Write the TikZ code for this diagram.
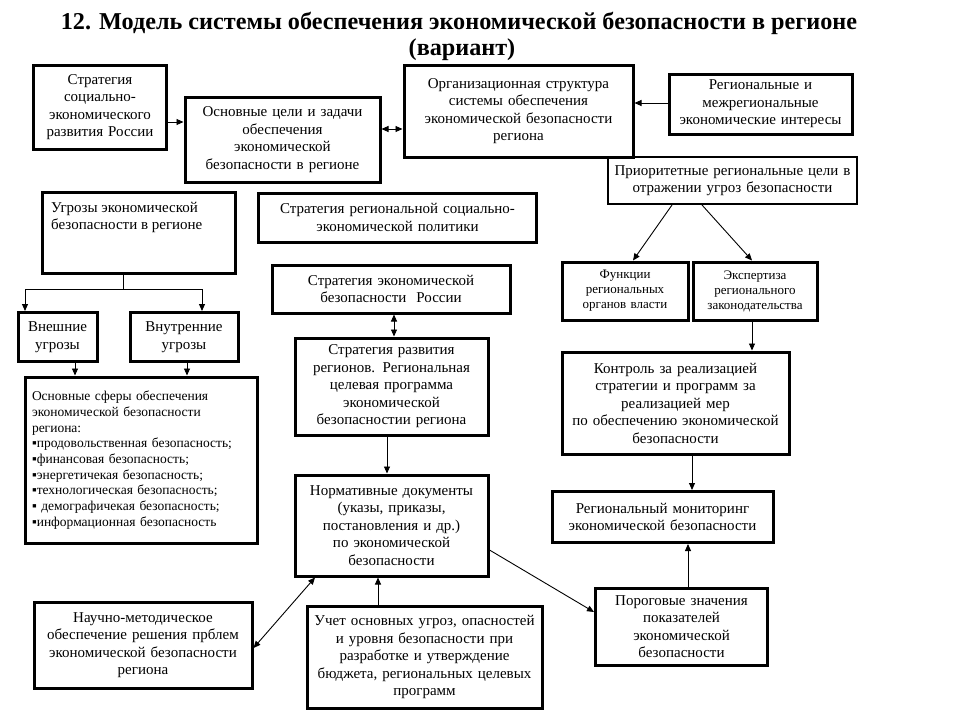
\documentclass[tikz,border=0pt]{standalone}
\usepackage{fontspec}
\setmainfont{Liberation Serif}
\usetikzlibrary{arrows.meta}
\tikzset{
  box/.style={draw, line width=3pt, align=center, inner sep=2pt,
    font=\fontsize{15}{17.5}\selectfont},
  smallbox/.style={box, font=\fontsize{13}{15}\selectfont},
  thinbox/.style={box, line width=2pt},
  txt/.style={inner sep=0pt, align=left, font=\fontsize{15}{17.5}\selectfont},
  titletxt/.style={inner sep=0pt, font=\fontsize{24.2}{26}\selectfont\bfseries},
  conn/.style={line width=0.9pt, -{Triangle[length=7pt,width=6pt]}},
  dconn/.style={line width=0.9pt, {Triangle[length=7pt,width=6pt]}-{Triangle[length=7pt,width=6pt]}},
  plain/.style={line width=0.9pt},
}
\begin{document}
\begin{tikzpicture}[x=1pt,y=-1pt]
\useasboundingbox[fill=white] (0,0) rectangle (960,720);

% title
\node[titletxt, anchor=base] (t1) at (459,29) {12. Модель системы обеспечения экономической безопасности в регионе};
\node[titletxt, anchor=base] (t2) at (462,55) {(вариант)};

% boxes
\node[box, minimum width=133, minimum height=84, text width=125] (s1) at (100,107)
  {Стратегия\\социально-\\экономического\\развития России};
\node[box, minimum width=195, minimum height=85, text width=187] (goals) at (282.5,139.5)
  {Основные цели и задачи\\обеспечения\\экономической\\безопасности в регионе};
\node[box, minimum width=229, minimum height=92, text width=221] (org) at (518.5,111)
  {Организационная структура\\системы обеспечения\\экономической безопасности\\региона};
\node[box, minimum width=183, minimum height=60, text width=175] (inter) at (760.5,104)
  {Региональные и\\межрегиональные\\экономические интересы};
\node[thinbox, minimum width=249, minimum height=47, text width=241] (prior) at (732.5,180.5)
  {Приоритетные региональные цели в\\отражении угроз безопасности};

\node[box, minimum width=193, minimum height=81] (threats) at (138.5,233) {};
\node[txt, anchor=north west] (threatstxt) at (51,202) {Угрозы экономической\\безопасности в регионе};

\node[box, minimum width=278, minimum height=49, text width=270] (regpol) at (397.5,217.5)
  {Стратегия региональной социально-\\экономической политики};
\node[box, minimum width=238, minimum height=48, text width=230] (esr) at (391,289)
  {Стратегия экономической\\безопасности \ России};

\node[box, minimum width=79, minimum height=49, text width=73] (ext) at (57.5,337)
  {Внешние\\угрозы};
\node[box, minimum width=108, minimum height=49, text width=100] (int) at (184,337)
  {Внутренние\\угрозы};

\node[box, minimum width=232, minimum height=166, text width=218, align=left,
      font=\fontsize{13.5}{15.7}\selectfont] (spheres) at (141,460)
  {Основные сферы обеспечения\\экономической безопасности\\региона:\\
   ▪продовольственная безопасность;\\▪финансовая безопасность;\\▪энергетичекая безопасность;\\
   ▪технологическая безопасность;\\▪ демографичекая безопасность;\\▪информационная безопасность\\[5pt]};

\node[box, minimum width=193, minimum height=97, text width=185] (devreg) at (391.5,386.5)
  {Стратегия развития\\регионов. Региональная\\целевая программа\\экономической\\безопасностии региона};

\node[smallbox, minimum width=126, minimum height=58, text width=120] (func) at (625,291)
  {Функции\\региональных\\органов власти};
\node[smallbox, minimum width=124, minimum height=58, text width=118] (expert) at (755,291)
  {Экспертиза\\регионального\\законодательства};

\node[box, minimum width=227, minimum height=102, text width=221] (control) at (675.5,403)
  {Контроль за реализацией\\стратегии и программ за\\реализацией мер\\по обеспечению экономической\\безопасности};
\node[box, minimum width=221, minimum height=51, text width=213] (monitor) at (662.5,517)
  {Региональный мониторинг\\экономической безопасности};

\node[box, minimum width=193, minimum height=101, text width=185] (norm) at (391.5,525.5)
  {Нормативные документы\\(указы, приказы,\\постановления и др.)\\по экономической\\безопасности};

\node[box, minimum width=218, minimum height=86, text width=210] (sci) at (143,645)
  {Научно-методическое\\обеспечение решения прблем\\экономической безопасности\\региона};
\node[box, minimum width=235, minimum height=102, text width=227] (uchet) at (424.5,657)
  {Учет основных угроз, опасностей\\и уровня безопасности при\\разработке и утверждение\\бюджета, региональных целевых\\программ};
\node[box, minimum width=172, minimum height=77, text width=164] (porog) at (681.5,626.5)
  {Пороговые значения\\показателей\\экономической\\безопасности};

% connectors
\draw[conn] (s1.east |- 0,122) -- (goals.west |- 0,122);
\draw[dconn] (goals.east |- 0,129) -- (org.west |- 0,129);
\draw[conn] (inter.west |- 0,103) -- (org.east |- 0,103);

\coordinate (tb) at (123,289);
\draw[plain] (threats.south -| tb) -- (tb);
\draw[conn] (tb) -| (ext.north -| 25,0);
\draw[conn] (tb) -| (int.north -| 202,0);
\draw[conn] (ext.south -| 75,0) -- (spheres.north -| 75,0);
\draw[conn] (int.south -| 187,0) -- (spheres.north -| 187,0);

\draw[dconn] (esr.south -| 394,0) -- (devreg.north -| 394,0);
\draw[conn] (devreg.south -| 387,0) -- (norm.north -| 387,0);
\draw[conn] (uchet.north -| 378,0) -- (norm.south -| 378,0);
\draw[dconn] (norm.south -| 315,0) -- (sci.east |- 0,648);
\draw[conn] (norm.east |- 0,550) -- (porog.west |- 0,612);

\draw[conn] (prior.south -| 672,0) -- (func.north -| 633,0);
\draw[conn] (prior.south -| 702,0) -- (expert.north -| 752,0);
\draw[conn] (expert.south -| 752,0) -- (control.north -| 752,0);
\draw[conn] (control.south -| 692,0) -- (monitor.north -| 692,0);
\draw[conn] (porog.north -| 688,0) -- (monitor.south -| 688,0);
\end{tikzpicture}
\end{document}
